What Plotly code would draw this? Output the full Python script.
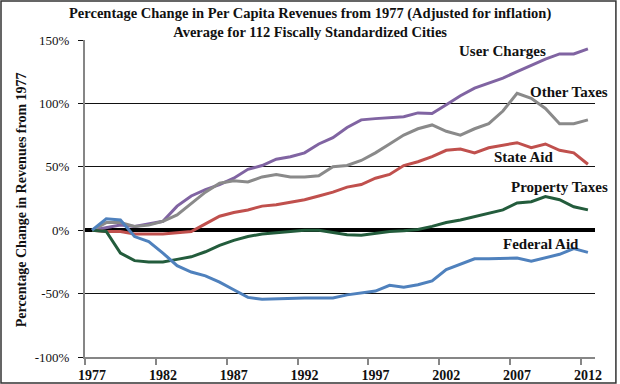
import plotly.graph_objects as go

years = list(range(1977, 2013))

user_charges = [0, 2, 4, 3, 5, 7, 19, 27, 32, 36, 41, 48, 51, 56, 58, 61, 68, 73,
                81, 87, 88, 88.5, 89.5, 92.5, 92, 99, 106, 112, 116, 120, 125, 130,
                135, 139, 139, 143]
other_taxes = [0, 6, 6, 3, 4, 7, 12, 21, 30, 37, 39, 38, 42, 44, 42, 42, 43, 50,
               51, 55, 61, 68, 75, 80, 83, 78, 75, 80, 84, 94, 108, 104, 96, 84, 84, 87]
state_aid = [0, -1, -1, -3, -3, -3, -2, -1, 5, 11, 14, 16, 19, 20, 22, 24, 27, 30,
             34, 36, 41, 44, 51, 54, 58, 63, 64, 61, 65, 67, 69, 65, 68, 63, 61, 52]
property_taxes = [0, -1, -18, -24, -25, -25, -23, -21, -17, -12, -8, -5, -3, -2, -1, 0,
                  0, -2, -3.5, -4, -2.5, -1, -0.5, 0.5, 3, 6, 8, 10.5, 13, 16, 21.5,
                  22.5, 26.5, 24, 18.5, 16]
federal_aid = [0, 9, 8, -5, -9, -18, -28, -33, -36, -41, -47, -53, -54.5, -54, -53.5,
               -53.5, -53.5, -53.5, -51, -49.5, -48, -43.5, -45, -43, -40, -31, -27,
               -22.5, -22.5, -22, -22, -24.5, -22, -19, -14.5, -17.5]

series = [
    ("User Charges", user_charges, "#8064A2"),
    ("Other Taxes", other_taxes, "#8A8A8A"),
    ("State Aid", state_aid, "#C0504D"),
    ("Property Taxes", property_taxes, "#235C3C"),
    ("Federal Aid", federal_aid, "#4F81BD"),
]

tick_years = [1977, 1982, 1987, 1992, 1997, 2002, 2007, 2012]
y_ticks = [-100, -50, 0, 50, 100, 150]
y_tick_text = ["-100%", "-50%", "0%", "50%", "100%", "150%"]

FONT = "Liberation Serif, Times New Roman, serif"

fig = go.Figure()
for name, vals, color in series:
    fig.add_trace(go.Scatter(x=years, y=vals, mode="lines", name=name,
                             line=dict(color=color, width=3), showlegend=False,
                             hoverinfo="skip"))

labels = [
    ("User Charges", 2006.0, 141.3),
    ("Other Taxes", 2010.66, 109),
    ("State Aid", 2007.42, 57.7),
    ("Property Taxes", 2009.99, 34),
    ("Federal Aid", 2008.72, -10.9),
]
for text, x, y in labels:
    fig.add_annotation(x=x, y=y, text=f"<b>{text}</b>", showarrow=False,
                       font=dict(family=FONT, size=15, color="#111111"))

fig.add_annotation(xref="paper", yref="paper", x=0.441, y=1.118, xanchor="center",
                   yanchor="top",
                   text="<b>Percentage Change in Per Capita Revenues from 1977 (Adjusted for inflation)</b><br>"
                        "<b>Average for 112 Fiscally Standardized Cities</b>",
                   showarrow=False, font=dict(family=FONT, size=14.5, color="#111111"))

fig.add_annotation(xref="paper", yref="paper", x=-0.125, y=0.495, textangle=-90,
                   xanchor="center", yanchor="middle",
                   text="<b>Percentage Change in Revenues from 1977</b>",
                   showarrow=False, font=dict(family=FONT, size=14, color="#111111"))

# Figure border
fig.add_shape(type="rect", xref="paper", yref="paper",
              x0=-0.1647, x1=1.041, y0=-0.082, y1=1.123,
              line=dict(color="#333333", width=1.5), layer="below")

fig.update_layout(
    width=620, height=384,
    margin=dict(l=85, r=25, t=40, b=27),
    paper_bgcolor="white", plot_bgcolor="white",
    font=dict(family=FONT, size=12, color="#111111"),
)
fig.update_xaxes(
    range=[1976.5, 2012.5], tickvals=tick_years,
    ticktext=[f"<b>{t}</b>" for t in tick_years],
    ticks="", showgrid=False, zeroline=False, automargin=False,
    showline=True, linecolor="#868686", linewidth=2, ticklabelstandoff=4,
    tickfont=dict(family=FONT, size=14, color="#111111"),
    minor=dict(tickvals=[y - 0.5 for y in tick_years], ticks="outside", ticklen=6,
               tickcolor="#868686", tickwidth=2, showgrid=False),
)
fig.update_yaxes(
    range=[-100, 150], tickvals=y_ticks, ticktext=y_tick_text,
    ticks="outside", ticklen=5, tickcolor="#111111", automargin=False,
    showgrid=True, gridcolor="#111111", gridwidth=1, ticklabelstandoff=6,
    zeroline=True, zerolinecolor="#000000", zerolinewidth=3.5,
    showline=True, linecolor="#868686", linewidth=2,
    tickfont=dict(family=FONT, size=13, color="#111111"),
)

fig.write_html("out.html", config={"displayModeBar": False},
               post_script="document.body.style.margin='0';document.body.style.overflow='hidden';")
